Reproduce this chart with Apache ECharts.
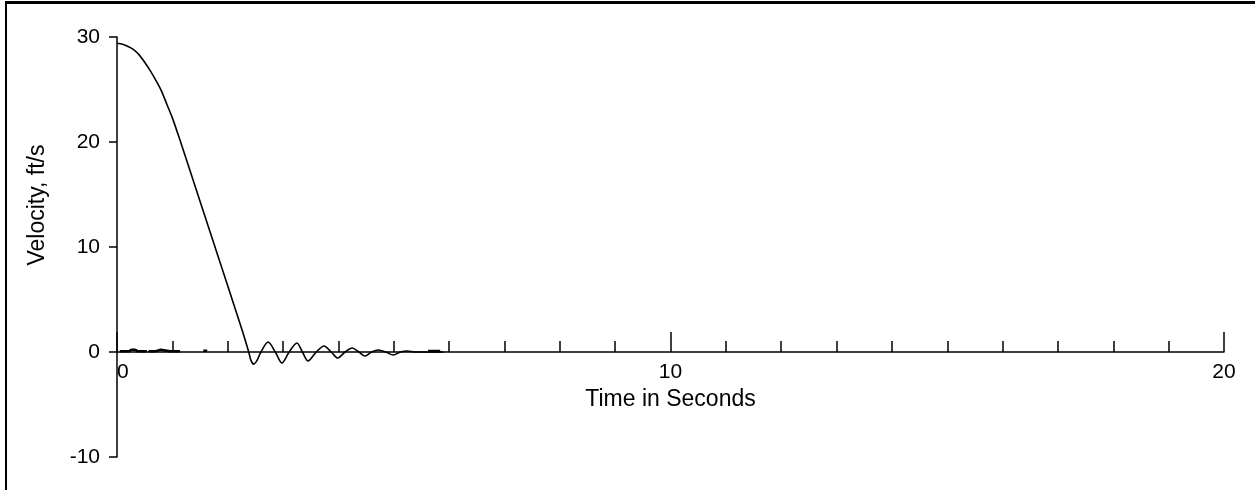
<!DOCTYPE html>
<html>
<head>
<meta charset="utf-8">
<script src="https://cdn.jsdelivr.net/npm/echarts@6/dist/echarts.min.js"></script>
<style>
  html, body { margin: 0; padding: 0; background: #fff; }
  #chart { width: 1255px; height: 490px; }
  .frame { position: absolute; left: 5px; top: 1px; right: 0; bottom: 0;
           border-left: 2px solid #000; border-top: 3px solid #000; pointer-events: none; }
</style>
</head>
<body>
<div id="chart"></div>
<div class="frame"></div>
<script>
// time (s) and velocity (ft/s)
const time = [0, 0.1, 0.2, 0.3, 0.4, 0.5, 0.6, 0.7, 0.8, 0.9, 1.0, 1.13, 1.5, 2.0, 2.26, 2.38,
  2.42, 2.47, 2.53, 2.60, 2.73, 2.86, 2.98, 3.11, 3.25, 3.35, 3.45, 3.60, 3.74, 3.87, 3.99,
  4.12, 4.25, 4.37, 4.48, 4.60, 4.72, 4.86, 4.99, 5.12, 5.24, 5.40, 5.90]
const velocity = [29.4, 29.3, 29.1, 28.8, 28.3, 27.6, 26.8, 25.9, 24.9, 23.6, 22.3, 20.3, 14.35, 6.3, 2.1, 0.0,
  -0.8, -1.15, -0.8, 0.0, 0.95, 0.0, -1.05, 0.0, 0.86, 0.0, -0.86, 0.0, 0.57, 0.0, -0.57,
  0.0, 0.38, 0.0, -0.38, 0.0, 0.19, 0.0, -0.29, 0.0, 0.1, 0.0, 0.0]

// small trace fragments sitting on the zero line
const noiseTime = [0.05, 0.22, 0.26, 0.33, 0.37, 0.54, null, 0.57, 0.70, 0.73, 0.79, 0.82, 0.96, 1.14, null, 1.56, 1.63, null, 5.62, 5.84]
const noiseVal = [0.08, 0.08, 0.22, 0.22, 0.08, 0.08, null, 0.08, 0.08, 0.22, 0.22, 0.08, 0.08, 0.08, null, 0.12, 0.12, null, 0.1, 0.1]

const xTicks = { min: 0, max: 20, interval: 10 }
const yTicks = { min: -10, max: 30, interval: 10 }

const font = 'Liberation Sans, Arial, sans-serif'
const plotH = 420 // grid height in px, used to lift the time axis onto y = 0

const chart = echarts.init(document.getElementById('chart'))

const option = {
  backgroundColor: '#fff',
  animation: false,
  grid: { left: 117, right: 31, top: 37, bottom: 33, outerBoundsMode: 'none' },
  xAxis: {
    type: 'value',
    min: xTicks.min,
    max: xTicks.max,
    interval: xTicks.interval,
    // axis sits where y = 0, i.e. 10/40 of the way up the grid
    offset: -plotH * (0 - yTicks.min) / (yTicks.max - yTicks.min),
    name: 'Time in Seconds',
    nameLocation: 'middle',
    nameGap: 34,
    nameTextStyle: { fontFamily: font, fontSize: 23, color: '#000' },
    axisLine: { onZero: false, lineStyle: { color: '#000', width: 1.5 } },
    axisTick: { inside: true, length: 20, lineStyle: { color: '#000', width: 1.5 } },
    minorTick: { show: true, splitNumber: 10, length: 11, lineStyle: { color: '#000', width: 1.5 } },
    axisLabel: { fontFamily: font, fontSize: 21, color: '#000', margin: 10, alignMinLabel: 'left' },
    splitLine: { show: false }
  },
  yAxis: {
    type: 'value',
    min: yTicks.min,
    max: yTicks.max,
    interval: yTicks.interval,
    axisLine: { show: true, onZero: false, lineStyle: { color: '#000', width: 1.5 } },
    axisTick: { show: true, length: 8, lineStyle: { color: '#000', width: 1.5 } },
    axisLabel: { fontFamily: font, fontSize: 21, color: '#000', margin: 17 },
    splitLine: { show: false }
  },
  graphic: [{
    type: 'text',
    x: 38,
    y: 205,
    rotation: Math.PI / 2,
    style: {
      text: 'Velocity, ft/s',
      fontFamily: font,
      fontSize: 23,
      fill: '#000',
      align: 'center',
      verticalAlign: 'middle'
    }
  }],
  series: [
    {
      name: 'velocity',
      type: 'line',
      data: time.map((t, i) => [t, velocity[i]]),
      smooth: 0.3,
      symbol: 'none',
      lineStyle: { color: '#000', width: 1.6 }
    },
    {
      name: 'trace',
      type: 'line',
      data: noiseTime.map((t, i) => t === null ? [null, null] : [t, noiseVal[i]]),
      connectNulls: false,
      symbol: 'none',
      lineStyle: { color: '#000', width: 2.5 }
    }
  ]
}

chart.setOption(option)
</script>
</body>
</html>
